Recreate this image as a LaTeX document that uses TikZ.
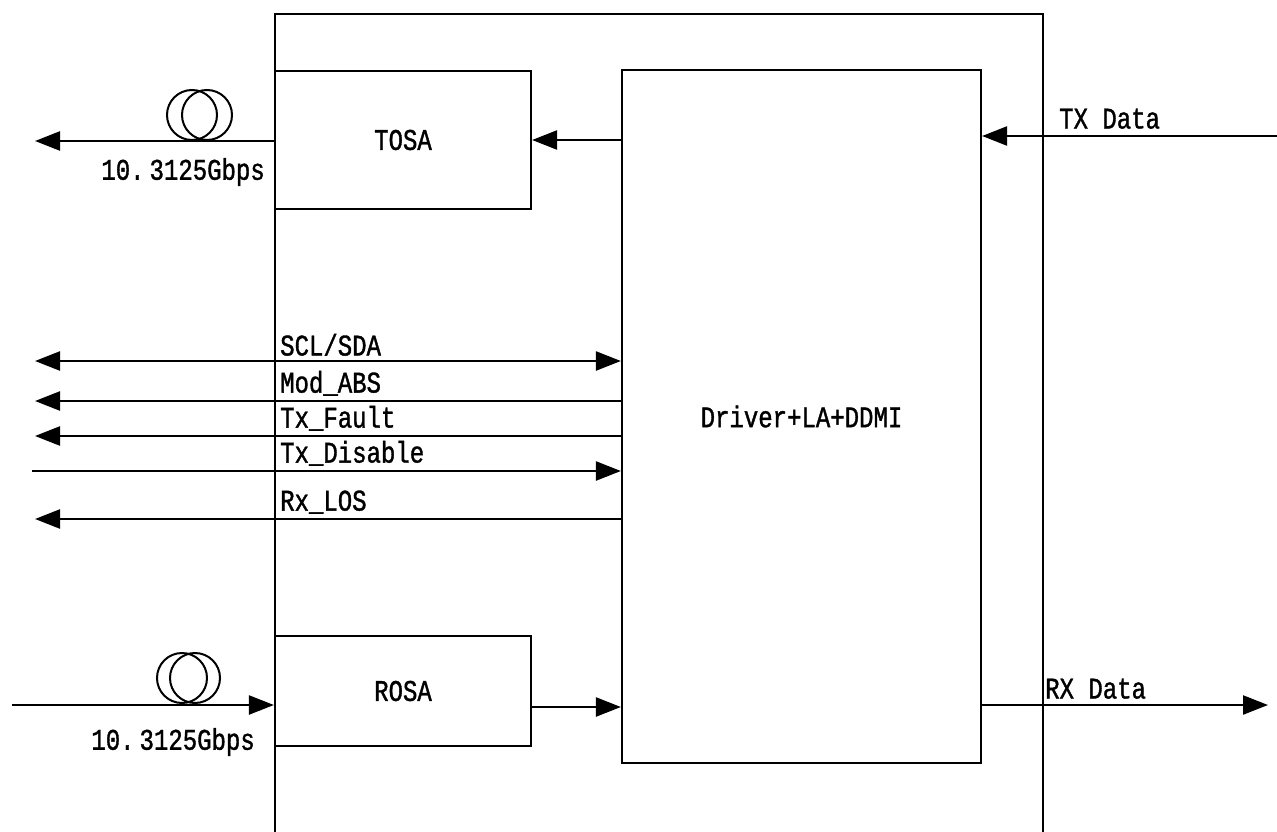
\documentclass[tikz,border=0pt]{standalone}
\usepackage{fontspec}
\newfontfamily\labelfont[FakeStretch=0.8, FakeBold=1.2]{Liberation Mono}
\usetikzlibrary{arrows.meta,positioning}
\tikzstyle{block} = [rectangle, draw, line width=2.2pt, inner sep=0pt]
\tikzstyle{line} = [draw, line width=2.4pt, -{Triangle[length=25pt,width=19pt]}]
\tikzstyle{dline} = [draw, line width=2.4pt, {Triangle[length=25pt,width=19pt]}-{Triangle[length=25pt,width=19pt]}]
\tikzstyle{sig} = [inner sep=1pt, anchor=south west]
\tikzstyle{coil} = [draw, line width=2pt]

\begin{document}
\begin{tikzpicture}[x=1pt, y=-1pt, font=\labelfont\fontsize{30}{34}\selectfont]
            \useasboundingbox (0,0) rectangle (1277,832);

            % module case, open at the bottom
            \draw[line width=2.2pt] (275,834) -- (275,14) -- (1043,14) -- (1043,834);

            \node[block, minimum width=256pt, minimum height=138pt] (tosa) at (403,140) {TOSA};
            \node[block, minimum width=256pt, minimum height=110pt] (rosa) at (403,691) {ROSA};
            \node[block, minimum width=359pt, minimum height=693pt] (drv) at (801.5,416.5) {Driver+LA+DDMI};

            % optical side
            \coordinate (txout) at (35,141);
            \coordinate (rxin) at (12,705);
            \path[line] (tosa.west |- txout) -- (txout);
            \path[line] (rxin) -- (rosa.west |- rxin);
            \draw[coil] (192,115) circle (25pt);
            \draw[coil] (207,115) circle (25pt);
            \draw[coil] (182,678) circle (25pt);
            \draw[coil] (195,678) circle (25pt);
            \node[anchor=east, inner sep=0pt] (txrate) at (265,172) {10.\,3125Gbps};
            \node[anchor=east, inner sep=0pt] (rxrate) at (255,742) {10.\,3125Gbps};

            \path[line] (drv.west |- tosa.east) -- (tosa.east);
            \path[line] (rosa.east |- 0,707) -- (drv.west |- 0,707);

            % electrical side
            \coordinate (txin) at (1277,136);
            \coordinate (rxout) at (1268,705);
            \path[line] (txin) -- (drv.east |- txin);
            \path[line] (drv.east |- rxout) -- (rxout);
            \node[sig] (txlbl) at (1058,130) {TX Data};
            \node[sig] (rxlbl) at (1044,700) {RX Data};

            % control signals
            \coordinate (scl) at (35,361);
            \coordinate (mod) at (35,401);
            \coordinate (flt) at (35,436);
            \coordinate (dis) at (32,471);
            \coordinate (los) at (35,519);
            \path[dline] (scl) -- (drv.west |- scl);
            \path[line] (drv.west |- mod) -- (mod);
            \path[line] (drv.west |- flt) -- (flt);
            \path[line] (dis) -- (drv.west |- dis);
            \path[line] (drv.west |- los) -- (los);
            \node[sig] at (279,357) {SCL/SDA};
            \node[sig] at (279,397) {Mod\_ABS};
            \node[sig] at (279,432) {Tx\_Fault};
            \node[sig] at (279,467) {Tx\_Disable};
            \node[sig] at (279,515) {Rx\_LOS};

        \end{tikzpicture}
\end{document}
